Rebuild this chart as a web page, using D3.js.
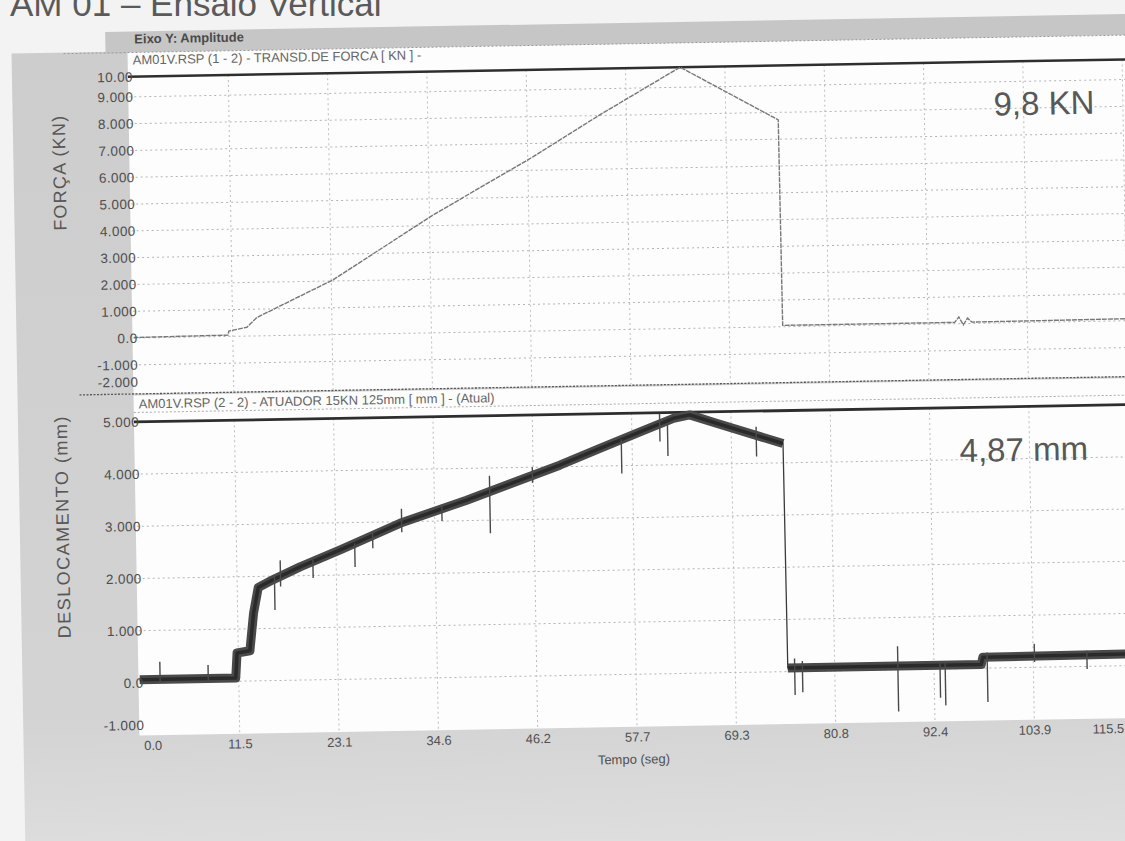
<!DOCTYPE html>
<html>
<head>
<meta charset="utf-8">
<script src="https://cdn.jsdelivr.net/npm/d3@7"></script>
<style>
  html, body { margin: 0; padding: 0; background: #f3f3f3; }
  svg { display: block; font-family: "Liberation Sans", Arial, sans-serif; }
</style>
</head>
<body>
<svg id="chart" width="1125" height="841"></svg>
<script>
// Values (AM 01 - vertical test)

// time axis (s)
var timeTicks = [0, 11.55, 23.1, 34.65, 46.2, 57.75, 69.3, 80.85, 92.4, 103.95, 115.5];
var timeTickLabels = ["0.0", "11.5", "23.1", "34.6", "46.2", "57.7", "69.3", "80.8", "92.4", "103.9", "115.5"];

// y ticks
var forceTicks = [10, 9, 8, 7, 6, 5, 4, 3, 2, 1, 0, -1, -2];
var dispTicks = [5, 4, 3, 2, 1, 0, -1];

// force transducer (kN)
var forceTime  = [0, 11.0, 11.1, 13.2, 14.4, 23.3, 35.1, 46.8, 54.7, 64.1, 75.4, 75.5, 95.5, 96.0, 96.5, 97.0, 97.5, 120];
var forceValue = [0.02, 0.05, 0.2, 0.33, 0.69, 2.04, 4.4, 6.5, 8.03, 9.75, 7.72, 0.05, 0.05, 0.25, -0.05, 0.2, 0.05, 0.08];

// actuator displacement (mm), centre of the noisy trace
var dispTime  = [0, 11.2, 11.4, 12.9, 13.4, 14.0, 15.7, 18.9, 23.6, 30.6, 38.4, 49.3, 54.0, 58.7, 62.6, 64.5, 67.6, 75.3, 75.4, 97.9, 98.1, 120];
var dispValue = [0.06, 0.06, 0.54, 0.58, 1.3, 1.79, 1.93, 2.17, 2.48, 2.97, 3.39, 4.03, 4.34, 4.64, 4.89, 4.95, 4.78, 4.37, 0.07, 0.07, 0.21, 0.23];

// noise spikes on the displacement trace
var spikeTime = [2.4, 8.0, 15.9, 16.6, 20.4, 25.3, 27.4, 30.8, 35.5, 41.1, 46.1, 56.5, 61.0, 61.9, 72.2, 76.2, 77.1, 88.2, 93.1, 93.7, 98.6, 104.1, 110.2];
var spikeLow  = [0.0, 0.02, 1.35, 1.8, 1.95, 2.15, 2.5, 2.8, 3.0, 2.75, 3.7, 3.85, 4.45, 4.17, 4.13, -0.45, -0.4, -0.8, -0.55, -0.7, -0.65, 0.1, -0.05];
var spikeHigh = [0.4, 0.32, 2.0, 2.3, 2.3, 2.6, 2.8, 3.25, 3.3, 3.85, 4.0, 4.5, 4.98, 4.8, 4.7, 0.25, 0.2, 0.45, 0.15, 0.15, 0.3, 0.45, 0.3];

var svg = d3.select("#chart");

var minusLocale = d3.formatLocale({ decimal: ".", thousands: ",", grouping: [3], currency: ["", ""], minus: "-" });
var f4 = minusLocale.format(".4r");
function fmtY(v) { return v === 0 ? "0.0" : f4(v); }

// scales (the scan is slightly tilted, so everything sits in a rotated group)
var x = d3.scaleLinear().domain([0, 120]).range([135, 135 + 8.6 * 120]);
var yF = d3.scaleLinear().domain([-1.75, 9.75]).range([377.5, 69.3]).clamp(true);
var yD = d3.scaleLinear().domain([-1, 5]).range([727.7, 414.5]).clamp(true);

// title of the document
svg.append("text")
    .attr("x", 10).attr("y", 16)
    .attr("font-size", 35)
    .attr("fill", "#5a5a5a")
    .text("AM 01 \u2013 Ensaio Vertical");

var defs = svg.append("defs");
var grad = defs.append("linearGradient").attr("id", "bgGrad").attr("x1", 0).attr("y1", 0).attr("x2", 0).attr("y2", 1);
grad.append("stop").attr("offset", "0%").attr("stop-color", "#cdcdcd");
grad.append("stop").attr("offset", "80%").attr("stop-color", "#d3d3d3");
grad.append("stop").attr("offset", "100%").attr("stop-color", "#e0e0e0");

defs.append("clipPath").attr("id", "clipTop").append("rect")
    .attr("x", 135).attr("y", 60).attr("width", 1100).attr("height", 320);
defs.append("clipPath").attr("id", "clipBot").append("rect")
    .attr("x", 135).attr("y", 405).attr("width", 1100).attr("height", 323);

var g = svg.append("g").attr("transform", "rotate(-1,562,420)");

// grey screenshot background
g.append("rect").attr("x", 18).attr("y", 44).attr("width", 1200).attr("height", 830).attr("fill", "url(#bgGrad)");
g.append("rect").attr("x", 112).attr("y", 24).attr("width", 1100).attr("height", 22).attr("fill", "#c6c6c6");
g.append("text")
    .attr("x", 141).attr("y", 36)
    .attr("font-size", 13).attr("font-weight", "bold")
    .attr("fill", "#4a4a4a")
    .text("Eixo Y: Amplitude");

// white plot areas
g.append("rect").attr("x", 134).attr("y", 45).attr("width", 1100).attr("height", 341).attr("fill", "#fdfdfd");
g.append("rect").attr("x", 134).attr("y", 388).attr("width", 1100).attr("height", 340).attr("fill", "#fdfdfd");

g.append("line").attr("x1", 70).attr("x2", 1200).attr("y1", 45).attr("y2", 45)
    .attr("stroke", "#9a9a9a").attr("stroke-dasharray", "2,2");
g.append("line").attr("x1", 80).attr("x2", 1200).attr("y1", 386.5).attr("y2", 386.5)
    .attr("stroke", "#555").attr("stroke-width", 1.3).attr("stroke-dasharray", "2,1.5");
g.append("line").attr("x1", 134).attr("x2", 1200).attr("y1", 405).attr("y2", 405)
    .attr("stroke", "#aaa").attr("stroke-dasharray", "2,2");

// headers
g.append("text").attr("x", 139).attr("y", 57).attr("font-size", 13).attr("fill", "#666")
    .text("AM01V.RSP (1 - 2) - TRANSD.DE FORCA [ KN ] -");
g.append("text").attr("x", 139).attr("y", 401).attr("font-size", 13).attr("fill", "#666")
    .text("AM01V.RSP (2 - 2) - ATUADOR 15KN 125mm  [ mm ] - (Atual)");

// grid lines
function hGrid(scale, ticks, x0) {
  var dom = scale.domain();
  g.append("g").selectAll("line")
      .data(ticks.filter(function(d) { return d > dom[0] && d < dom[1]; }))
      .join("line")
      .attr("x1", x0).attr("x2", 1200)
      .attr("y1", function(d) { return scale(d); })
      .attr("y2", function(d) { return scale(d); })
      .attr("stroke", "#b4b4b4").attr("stroke-dasharray", "2,3");
}
hGrid(yF, forceTicks, 135);
hGrid(yD, dispTicks, 135);

function vGrid(y0, y1) {
  g.append("g").selectAll("line")
      .data(timeTicks.slice(1))
      .join("line")
      .attr("x1", function(d) { return x(d); }).attr("x2", function(d) { return x(d); })
      .attr("y1", y0).attr("y2", y1)
      .attr("stroke", "#bdbdbd").attr("stroke-dasharray", "2,3");
}
vGrid(yF.range()[1], yF.range()[0] + 8);
vGrid(yD.range()[1], yD.range()[0]);

// thick top borders
g.append("line").attr("x1", 134).attr("x2", 1200).attr("y1", yF(9.75)).attr("y2", yF(9.75))
    .attr("stroke", "#2e2e2e").attr("stroke-width", 2.5);
g.append("line").attr("x1", 134).attr("x2", 1200).attr("y1", yD(5)).attr("y2", yD(5))
    .attr("stroke", "#2e2e2e").attr("stroke-width", 2.8);

// force trace
var forceLine = d3.line()
    .x(function(d, i) { return x(forceTime[i]); })
    .y(function(d) { return yF(d); });
g.append("path")
    .attr("clip-path", "url(#clipTop)")
    .attr("d", forceLine(forceValue))
    .attr("fill", "none").attr("stroke", "#777").attr("stroke-width", 1.4)
    .attr("stroke-dasharray", "5,1");

// displacement trace: thick noisy band, thin connector at the unloading drop
var dispLine = d3.line()
    .x(function(d) { return x(d.t); })
    .y(function(d) { return yD(d.v); });
var pts = dispTime.map(function(t, i) { return { t: t, v: dispValue[i] }; });
var runs = [[pts[0]]];
for (var i = 1; i < pts.length; i++) {
  if (Math.abs(pts[i].v - pts[i - 1].v) > 2) runs.push([]);
  runs[runs.length - 1].push(pts[i]);
}
var dispG = g.append("g").attr("clip-path", "url(#clipBot)");
dispG.append("path").attr("d", dispLine(pts))
    .attr("fill", "none").attr("stroke", "#3a3a3a").attr("stroke-width", 1.3);
dispG.selectAll("path.band").data(runs).join("path")
    .attr("class", "band")
    .attr("d", dispLine)
    .attr("fill", "none").attr("stroke", "#4a4a4a").attr("stroke-width", 9)
    .attr("stroke-linejoin", "round");
dispG.selectAll("path.core").data(runs).join("path")
    .attr("class", "core")
    .attr("d", dispLine)
    .attr("fill", "none").attr("stroke", "#2a2a2a").attr("stroke-width", 3.5)
    .attr("stroke-linejoin", "round");
dispG.selectAll("line.spike").data(spikeTime).join("line")
    .attr("class", "spike")
    .attr("x1", function(d) { return x(d); }).attr("x2", function(d) { return x(d); })
    .attr("y1", function(d, i) { return yD(spikeLow[i]); })
    .attr("y2", function(d, i) { return yD(spikeHigh[i]); })
    .attr("stroke", "#4a4a4a").attr("stroke-width", 1.4);

// y axes
function leftAxis(scale, ticks, lowShift) {
  var ax = g.append("g").attr("transform", "translate(139,0)")
      .call(d3.axisLeft(scale).tickValues(ticks).tickFormat(fmtY).tickSize(0).tickPadding(0));
  ax.select(".domain").remove();
  ax.selectAll("text")
      .attr("font-family", "Liberation Sans, Arial, sans-serif")
      .attr("font-size", 13.5).attr("letter-spacing", "0.4px")
      .attr("fill", "#4d4d4d");
  var lowest = d3.min(ticks);
  ax.selectAll(".tick").filter(function(d) { return d === lowest; })
      .select("text").attr("y", lowShift);
}
leftAxis(yF, forceTicks, -3);
leftAxis(yD, dispTicks, -10);

// x axis
var xAx = g.append("g").attr("transform", "translate(0,733.5)")
    .call(d3.axisBottom(x).tickValues(timeTicks)
      .tickFormat(function(d, i) { return timeTickLabels[i]; })
      .tickSize(0).tickPadding(0));
xAx.select(".domain").remove();
xAx.selectAll("text")
    .attr("font-family", "Liberation Sans, Arial, sans-serif")
    .attr("font-size", 13).attr("fill", "#505050");
// the first and last time labels are kept inside the plot width
xAx.selectAll(".tick").filter(function(d, i) { return i === 0; }).select("text").attr("text-anchor", "start").attr("x", 3);
xAx.selectAll(".tick").filter(function(d, i) { return i === timeTicks.length - 1; }).select("text").attr("text-anchor", "end").attr("x", -10);

g.append("text").attr("x", 628).attr("y", 765)
    .attr("text-anchor", "middle").attr("font-size", 13).attr("fill", "#505050")
    .text("Tempo (seg)");

// axis titles
g.append("text")
    .attr("transform", "translate(70,164) rotate(-90)")
    .attr("text-anchor", "middle").attr("font-size", 18).attr("letter-spacing", "1.2px")
    .attr("fill", "#575757")
    .text("FORÇA (KN)");
g.append("text")
    .attr("transform", "translate(67,518) rotate(-90)")
    .attr("text-anchor", "middle").attr("font-size", 18).attr("letter-spacing", "1.5px")
    .attr("fill", "#575757")
    .text("DESLOCAMENTO (mm)");

// peak annotations
g.append("text").attr("x", 999).attr("y", 123).attr("font-size", 33).attr("fill", "#585858").text("9,8 KN");
g.append("text").attr("x", 959).attr("y", 469).attr("font-size", 33).attr("fill", "#585858").text("4,87 mm");
</script>
</body>
</html>
